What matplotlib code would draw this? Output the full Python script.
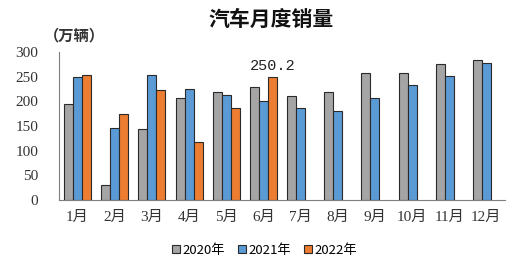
import numpy as np
import matplotlib
matplotlib.use('Agg')
import matplotlib.pyplot as plt

months = ['1月', '2月', '3月', '4月', '5月', '6月', '7月', '8月', '9月', '10月', '11月', '12月']
sales_2020 = [194.0, 31.0, 143.0, 207.0, 219.4, 230.0, 211.2, 218.6, 256.5, 257.3, 276.6, 283.1]
sales_2021 = [250.3, 145.5, 252.6, 225.2, 212.8, 201.2, 186.4, 179.9, 206.5, 233.1, 252.2, 278.6]
sales_2022 = [253.1, 173.7, 223.4, 118.1, 186.2, 250.2]
series_names = ['2020年', '2021年', '2022年']
colors = ['#a5a5a5', '#5b9bd5', '#ed7d31']

serif = ['Liberation Serif', 'Noto Sans CJK SC']
cjk = ['Noto Sans CJK SC', 'DejaVu Sans']

fig = plt.figure(figsize=(5.21, 2.66), dpi=100)
ax = fig.add_axes([0.1132, 0.2481, 0.8561, 0.5564])

w = 0.243
ind = np.arange(len(months))
bars = []
for k, vals in enumerate([sales_2020, sales_2021, sales_2022]):
    x = ind[:len(vals)] + (k - 1) * w
    b = ax.bar(x, vals, w, color=colors[k], edgecolor='#2a2a2a', linewidth=0.8,
               label=series_names[k])
    bars.append(b)

# label the June 2022 value
june = bars[2][5]
ax.text(june.get_x() + june.get_width() / 2., june.get_height() + 7, '%.1f' % sales_2022[5],
        ha='center', va='bottom', fontsize=11, family='Liberation Mono', color='#222222')

ax.set_xlim(-0.5, 11.5)
ax.set_ylim(0, 300)
ax.set_yticks(np.arange(0, 301, 50))
ax.set_xticks(ind)
ax.set_xticklabels(months)
ax.tick_params(axis='both', length=0, labelsize=11, labelcolor='#333333',
               labelfontfamily=serif)
ax.tick_params(axis='y', pad=15)
ax.tick_params(axis='x', pad=8)
for s in ['top', 'right']:
    ax.spines[s].set_visible(False)
ax.spines['left'].set_color('#7f7f7f')
ax.spines['bottom'].set_color('#7f7f7f')

fig.text(0.52, 0.928, '汽车月度销量', ha='center', va='center', fontsize=15,
         fontweight='bold', family=cjk, color='#111111')
fig.text(0.085, 0.866, '（万辆）', ha='left', va='center', fontsize=11,
         fontweight='bold', family=cjk, color='#333333')

leg = fig.legend(loc='center', bbox_to_anchor=(0.508, 0.06), ncol=3, frameon=False,
                 prop={'family': cjk, 'size': 9.5}, handlelength=0.6, handleheight=0.6,
                 handletextpad=0.2, columnspacing=1.0)

fig.savefig('out.png', dpi=100)
